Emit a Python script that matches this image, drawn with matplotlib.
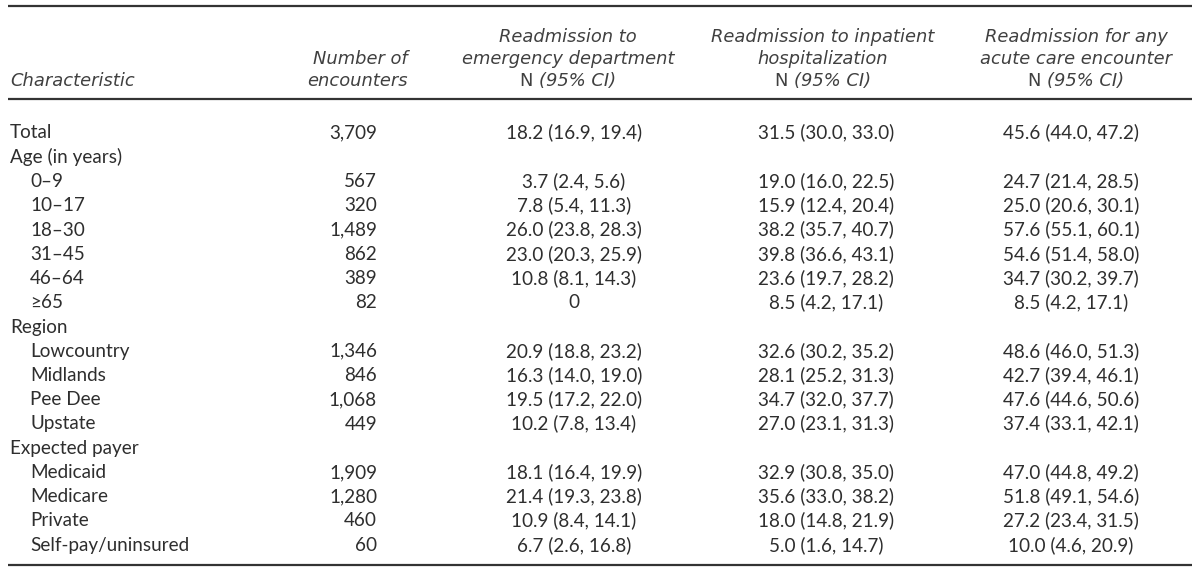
import matplotlib
matplotlib.use("Agg")
import matplotlib.pyplot as plt

plt.rcParams['font.family'] = ['Lato', 'DejaVu Sans']

characteristics = ["Total", "Age (in years)", "0\u20139", "10\u201317", "18\u201330", "31\u201345",
                   "46\u201364", "\u226565", "Region", "Lowcountry", "Midlands", "Pee Dee",
                   "Upstate", "Expected payer", "Medicaid", "Medicare", "Private",
                   "Self-pay/uninsured"]
indented = [0, 0, 1, 1, 1, 1, 1, 1, 0, 1, 1, 1, 1, 0, 1, 1, 1, 1]
encounters = ["3,709", "", "567", "320", "1,489", "862", "389", "82", "", "1,346", "846",
              "1,068", "449", "", "1,909", "1,280", "460", "60"]
ed_readmit = ["18.2 (16.9, 19.4)", "", "3.7 (2.4, 5.6)", "7.8 (5.4, 11.3)",
              "26.0 (23.8, 28.3)", "23.0 (20.3, 25.9)", "10.8 (8.1, 14.3)", "0", "",
              "20.9 (18.8, 23.2)", "16.3 (14.0, 19.0)", "19.5 (17.2, 22.0)",
              "10.2 (7.8, 13.4)", "", "18.1 (16.4, 19.9)", "21.4 (19.3, 23.8)",
              "10.9 (8.4, 14.1)", "6.7 (2.6, 16.8)"]
inpatient_readmit = ["31.5 (30.0, 33.0)", "", "19.0 (16.0, 22.5)", "15.9 (12.4, 20.4)",
                     "38.2 (35.7, 40.7)", "39.8 (36.6, 43.1)", "23.6 (19.7, 28.2)",
                     "8.5 (4.2, 17.1)", "", "32.6 (30.2, 35.2)", "28.1 (25.2, 31.3)",
                     "34.7 (32.0, 37.7)", "27.0 (23.1, 31.3)", "", "32.9 (30.8, 35.0)",
                     "35.6 (33.0, 38.2)", "18.0 (14.8, 21.9)", "5.0 (1.6, 14.7)"]
acute_readmit = ["45.6 (44.0, 47.2)", "", "24.7 (21.4, 28.5)", "25.0 (20.6, 30.1)",
                 "57.6 (55.1, 60.1)", "54.6 (51.4, 58.0)", "34.7 (30.2, 39.7)",
                 "8.5 (4.2, 17.1)", "", "48.6 (46.0, 51.3)", "42.7 (39.4, 46.1)",
                 "47.6 (44.6, 50.6)", "37.4 (33.1, 42.1)", "", "47.0 (44.8, 49.2)",
                 "51.8 (49.1, 54.6)", "27.2 (23.4, 31.5)", "10.0 (4.6, 20.9)"]
headers = [["Readmission to", "emergency department"],
           ["Readmission to inpatient", "hospitalization"],
           ["Readmission for any", "acute care encounter"]]

txt = "#2e2e2e"
fs = 13.6
hcol = "#404040"
hfont = dict(family=["DejaVu Sans"], style="italic", fontsize=12.9, color=hcol)

fig = plt.figure(figsize=(12, 5.7), dpi=100)
ax = fig.add_axes([0, 0, 1, 1])
ax.set_xlim(0, 1200)
ax.set_ylim(570, 0)
ax.axis("off")

# rules
for y in (6, 99, 565):
    ax.plot([8, 1192], [y, y], color="#333333", lw=1.6, solid_capstyle="butt")

# header (baselines)
hy = [41.5, 63.5, 85.5]
ax.text(10, hy[2], "Characteristic", ha="left", va="baseline", **hfont)
ax.text(408, hy[1], "Number of", ha="right", va="baseline", **hfont)
ax.text(408, hy[2], "encounters", ha="right", va="baseline", **hfont)

col_x = [568, 823, 1076]
val_x = [574, 826, 1071]
fig.canvas.draw()
r = fig.canvas.get_renderer()
for cx, h in zip(col_x, headers):
    for k, line in enumerate(h):
        ax.text(cx, hy[k], line, ha="center", va="baseline", **hfont)
    # "N" upright, "(95% CI)" italic, centered together
    a = ax.text(0, hy[2], "N ", va="baseline", family=["DejaVu Sans"], fontsize=12.9, color=hcol)
    b = ax.text(0, hy[2], "(95% CI)", va="baseline", **hfont)
    wa = a.get_window_extent(r).width
    wb = b.get_window_extent(r).width
    a.set_x(cx - (wa + wb) / 2)
    b.set_x(cx - (wa + wb) / 2 + wa)

# body
y0, dy = 138.5, 24.25
for i, name in enumerate(characteristics):
    y = y0 + i * dy
    ax.text(30 if indented[i] else 10, y, name, ha="left", va="baseline", fontsize=fs, color=txt)
    ax.text(377, y, encounters[i], ha="right", va="baseline", fontsize=fs, color=txt)
    for vx, col in zip(val_x, (ed_readmit, inpatient_readmit, acute_readmit)):
        ax.text(vx, y, col[i], ha="center", va="baseline", fontsize=fs, color=txt)

fig.savefig("out.png", dpi=100, facecolor="white")
